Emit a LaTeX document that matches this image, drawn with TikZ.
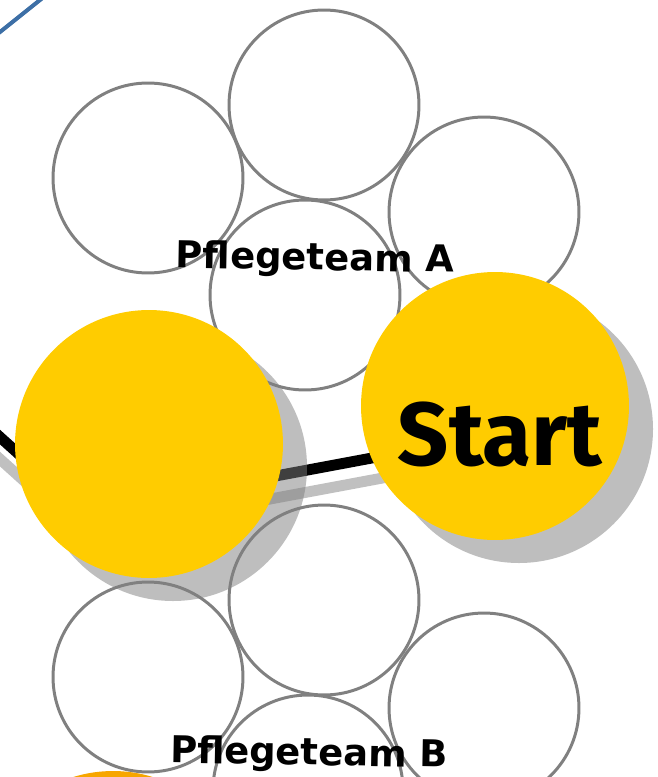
\documentclass[tikz,border=0pt]{standalone}
\usepackage{fontspec}
\usepackage{tikz}
\usetikzlibrary{positioning}
\usetikzlibrary{calc}
\newfontfamily\teamfont{DejaVu Sans}
\newfontfamily\startfont{Fira Sans}
\definecolor{leadyellow}{RGB}{255,204,0}
\definecolor{nextorange}{RGB}{247,166,0}
\definecolor{ringgray}{RGB}{128,128,128}
\definecolor{castgray}{RGB}{126,126,126}
\definecolor{routegray}{RGB}{192,192,192}
\definecolor{linkblue}{RGB}{61,111,166}
\tikzset{
    member/.style = {circle,draw=ringgray,line width=1.7pt,minimum size=3.8cm,inner sep=0pt},
    leader/.style = {circle,fill=leadyellow,minimum size=5.36cm,inner sep=0pt},
    nextleader/.style = {circle,fill=nextorange,minimum size=5.36cm,inner sep=0pt},
    castshadow/.style = {fill=castgray,opacity=0.5},
    route/.style = {line width=6.2pt,black},
    routeshadow/.style = {line width=6.2pt,routegray},
    bluelink/.style = {line width=2.3pt,linkblue},
    teamlabel/.style = {inner sep=0pt,font=\teamfont\bfseries\fontsize{21}{25}\selectfont},
    startlabel/.style = {inner sep=0pt,font=\startfont\bfseries\fontsize{51}{60}\selectfont}}
\begin{document}
\begin{tikzpicture}[x=0.02cm,y=-0.02cm]
    \useasboundingbox (0,0) rectangle (657,777);
    \clip (0,0) rectangle (657,777);
    % places of the big discs and of the route
    \coordinate (L) at (149,444);
    \coordinate (S) at (495,406);
    \coordinate (in) at (-40,401);
    \coordinate (bend) at (83,512);
    \coordinate (out) at (495,435);
    \coordinate (b0) at (-10,40);
    \coordinate (b1) at (50,-8);
    \draw[bluelink] (b0) -- (b1);
    \draw[routeshadow] ($(in)+(0,22)$) -- ($(bend)+(0,22)$) -- ($(out)+(0,22)$);
    \draw[route] (in) -- (bend) -- (out);
    \fill[castshadow] ($(L)+(24,23)$) circle (134);
    \fill[castshadow] ($(S)+(24,23)$) circle (134);
    % team A
    \path (148,178) node[member] (A1) {}
        (324,105) node[member] (A2) {}
        (484,212) node[member] (A3) {}
        (305,295) node[member] (A4) {};
    % team B
    \path (324,600) node[member] (B1) {}
        (148,677) node[member] (B2) {}
        (484,708) node[member] (B3) {}
        (308,790) node[member] (B4) {};
    \node[leader] (lead) at (L) {};
    \node[leader] (start) at (S) {};
    \node[nextleader] (next) at (113,905) {};
    \node[startlabel] (start text) at ($(S)+(5,28)$) {Start};
    \node[teamlabel,anchor=base,rotate=-1] (team A) at (315,270) {Pflegeteam A};
    \node[teamlabel,anchor=base,rotate=-1] (team B) at (309,765) {Pflegeteam B};
\end{tikzpicture}
\end{document}
